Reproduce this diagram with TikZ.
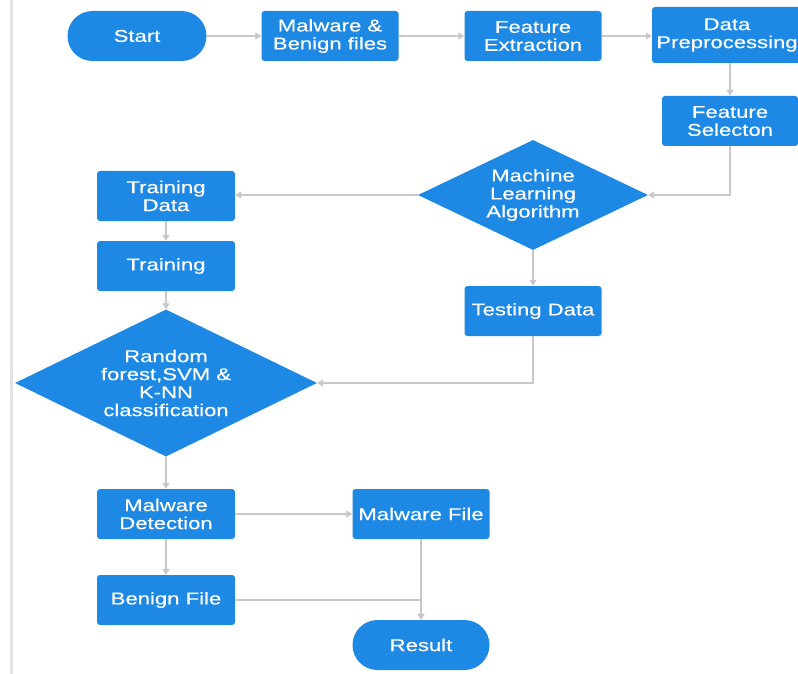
\documentclass[tikz,border=0pt]{standalone}
\usepackage{fontspec}
\setmainfont[FakeStretch=1.3,FakeBold=0.4]{Liberation Sans}
\usetikzlibrary{shapes.geometric,arrows.meta}
\definecolor{boxblue}{RGB}{30,137,229}
\definecolor{linegray}{RGB}{200,200,200}
\begin{document}
\begin{tikzpicture}[x=1pt,y=-1pt,
  txt/.style={text=white,font=\fontsize{17}{18}\selectfont,align=center},
  box/.style={txt,fill=boxblue,rounded corners=3pt,inner sep=0pt,minimum width=137pt,minimum height=50pt},
  term/.style={box,rounded corners=25pt,minimum width=139pt},
  diam/.style={diamond,fill=boxblue,inner sep=0pt},
  lbl/.style={txt},
  conn/.style={draw=linegray,line width=1.2pt,-{Triangle[length=6pt,width=7pt,fill=linegray]}}]
\useasboundingbox (0,0) rectangle (798,674);
\fill[white] (0,0) rectangle (798,674);
\draw[gray!22,line width=3pt] (11,0) -- (11,674);
% nodes
\node[term] (start) at (137,36) {Start};
\node[box] (mbf) at (330,36) {Malware \&\\Benign files};
\node[box] (fe) at (533,36) {Feature\\Extraction};
\node[box,minimum width=150pt,minimum height=56pt] (dp) at (727,35) {Data\\Preprocessing};
\node[box,minimum width=136pt] (fs) at (730,121) {Feature\\Selecton};
\node[diam,minimum width=230pt,minimum height=110pt,label={[lbl]center:{Machine\\Learning\\Algorithm}}] (mla) at (533,195) {};
\node[box,minimum width=138pt] (td) at (166,196) {Training\\Data};
\node[box,minimum width=138pt] (train) at (166,266) {Training};
\node[box] (test) at (533,311) {Testing Data};
\node[diam,minimum width=302pt,minimum height=147pt,label={[lbl]center:{Random\\forest,SVM \&\\K-NN\\classification}}] (rf) at (166,383) {};
\node[box,minimum width=138pt] (md) at (166,514) {Malware\\Detection};
\node[box] (mf) at (421,514) {Malware File};
\node[box,minimum width=138pt] (bf) at (166,600) {Benign File};
\node[term,minimum width=137pt] (res) at (421,645) {Result};
% connectors
\draw[conn] (start) -- (mbf);
\draw[conn] (mbf) -- (fe);
\draw[conn] (fe) -- (fe -| dp.west);
\draw[conn] (dp.south -| fs.north) -- (fs);
\draw[conn] (fs) |- (mla);
\draw[conn] (mla) -- (mla.west -| td.east);
\draw[conn] (mla) -- (test);
\draw[conn] (td) -- (train);
\draw[conn] (train) -- (rf);
\draw[conn] (test) |- (rf);
\draw[conn] (rf) -- (md);
\draw[conn] (md) -- (mf);
\draw[conn] (md) -- (bf);
\draw[conn] (mf) -- (res);
\draw[conn] (bf) -| (res);
\end{tikzpicture}
\end{document}
